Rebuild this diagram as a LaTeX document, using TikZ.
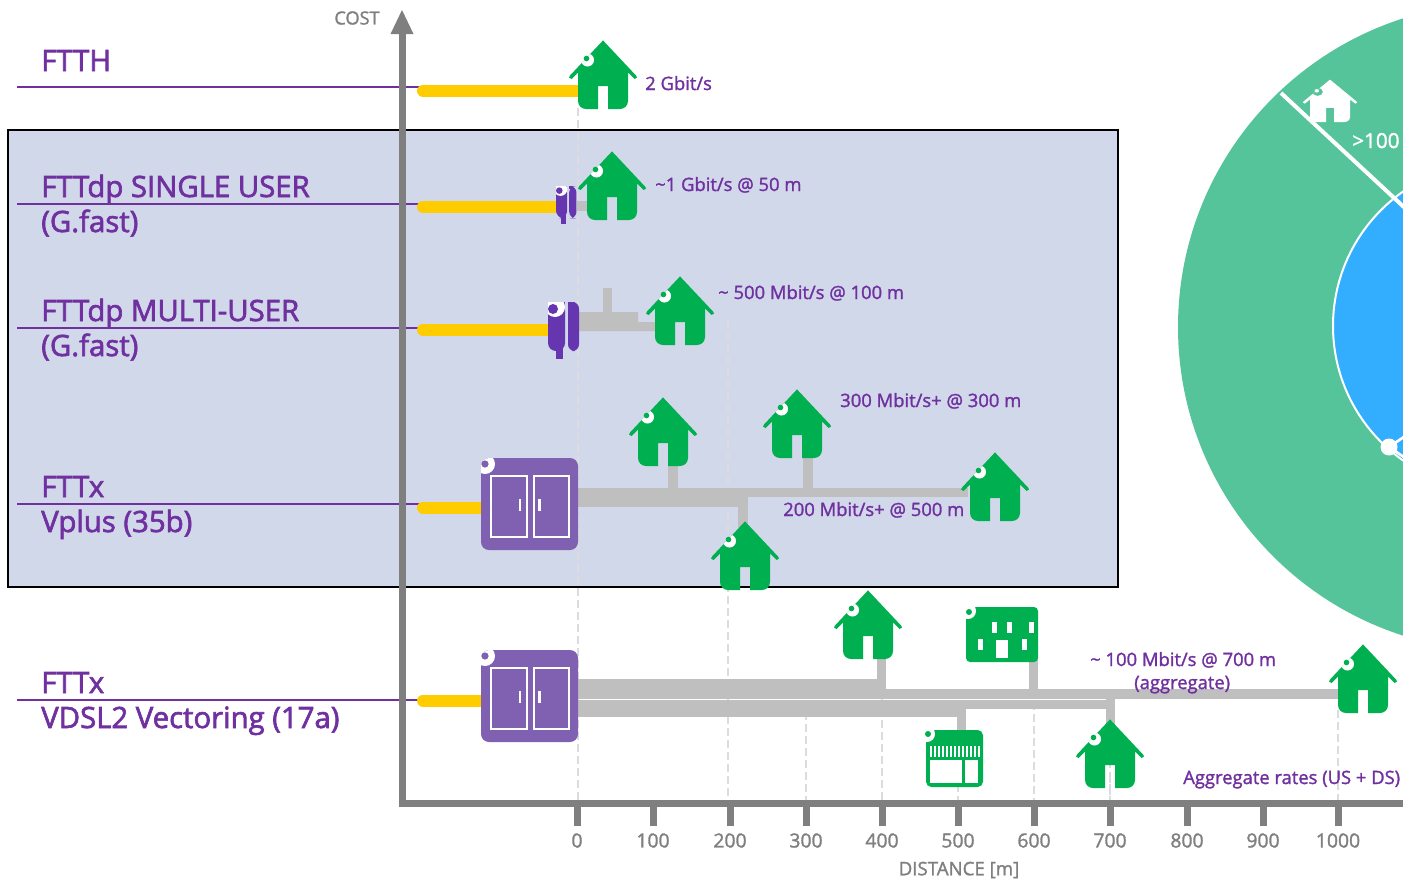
\documentclass[tikz,border=0pt]{standalone}
\usepackage{fontspec}
\setmainfont{Open Sans}
\newfontfamily\techfont[RawFeature={embolden=2.2}]{Open Sans}
\newfontfamily\ratefont[RawFeature={embolden=1.5}]{Open Sans}
\usepackage{tikz}
\usetikzlibrary{arrows,backgrounds}

\definecolor{techPurple}{HTML}{7030A0}
\definecolor{cabinetPurple}{HTML}{8060B0}
\definecolor{plugPurple}{HTML}{6636B0}
\definecolor{homeGreen}{HTML}{00B050}
\definecolor{ringGreen}{HTML}{56C49A}
\definecolor{coreBlue}{HTML}{33AEFF}
\definecolor{boxBlue}{HTML}{D1D8EA}
\definecolor{fibreYellow}{HTML}{FFCC00}
\definecolor{copperGrey}{HTML}{BFBFBF}
\definecolor{axisGrey}{HTML}{7F7F7F}
\definecolor{guideGrey}{HTML}{DCDCE0}

\newcommand{\homeoutline}{(0,-0.6) -- (33,34.5) -- (34,36.5) -- (31.5,38) -- (25,31.5) -- (25,60) .. controls (25,65) and (21,68) .. (17,68) -- (5,68) -- (5,45) -- (-5,45) -- (-5,68) -- (-17,68) .. controls (-21,68) and (-25,65) .. (-25,60) -- (-25,31.5) -- (-31.5,38) -- (-34,36.5) -- (-33,34.5) -- cycle}

\tikzset{
  techlabel/.style={anchor=base west,inner sep=0.75pt,text=techPurple,font=\techfont\fontsize{22}{26}\selectfont},
  ratelabel/.style={anchor=base west,inner sep=0.75pt,text=techPurple,font=\ratefont\fontsize{13.8}{17}\selectfont},
  axislabel/.style={inner sep=0.75pt,text=axisGrey,font=\ratefont\fontsize{14.5}{17}\selectfont},
  rule/.style={draw=techPurple,line width=1.1pt},
  fibre/.style={draw=fibreYellow,line width=9pt,line cap=round},
  guide/.style={draw=guideGrey,line width=1.6pt,dash pattern=on 6pt off 3pt},
  pics/homeicon/.style n args={3}{code={
    \fill[#1] \homeoutline ;
    \begin{scope}
      \clip \homeoutline ;
      \fill[#2] (-15.5,19) circle (6.5) ;
    \end{scope}
    \fill[#3] (-16.5,17.5) circle (2.8) ;
  }},
  pics/cabinet/.style={code={
    \fill[cabinetPurple,rounded corners=6] (0,0) rectangle (97,92) ;
    \draw[white,line width=1.5pt] (10,17.5) rectangle (45.5,78.5) ;
    \draw[white,line width=1.5pt] (52.5,17.5) rectangle (88,78.5) ;
    \fill[white] (37.5,41) rectangle (40,53) ;
    \fill[white] (57,41) rectangle (59.5,53) ;
    \begin{scope}
      \clip[rounded corners=6] (0,0) rectangle (97,92) ;
      \fill[white] (4,6) circle (10) ;
    \end{scope}
    \fill[cabinetPurple] (4,6) circle (3.6) ;
  }},
  pics/plugicon/.style={code={
    \fill[plugPurple] (0,0) rectangle (17,5) ;
    \fill[plugPurple] (8,40) rectangle (15,57) ;
    \fill[plugPurple,rounded corners=6] (0,0) rectangle (17,49) ;
    \fill[plugPurple,rounded corners=5] (20,0) rectangle (31,49) ;
    \fill[plugPurple] (20,0) rectangle (26,5) ;
    \begin{scope}
      \clip (0,0) rectangle (18,49) ;
      \fill[white] (7,5) circle (10) ;
    \end{scope}
    \fill[plugPurple] (5,7) circle (5) ;
  }}
}

\begin{document}
\begin{tikzpicture}[x=0.75pt,y=0.75pt,yscale=-1,xscale=1]
\useasboundingbox (0,0) rectangle (1403,882);
\clip (0,0) rectangle (1403,882);

%Shape: blue box
\draw[fill=boxBlue,draw=black,line width=1.1pt] (8,130) rectangle (1118,587) ;

%Shape: rings
\fill[ringGreen] (1502,327) circle (324) ;
\draw[fill=coreBlue,draw=white,line width=1.5pt] (1497,326) circle (164) ;
\draw[white,line width=3pt] (1281,93) -- (1420,222) ;
\draw[white,line width=2pt] (1389,447) -- (1420,426) ;
\draw[white,line width=2pt] (1389,447) -- (1420,468) ;
\fill[white] (1389,447) circle (8.5) ;
\pic[xscale=0.8,yscale=-0.62] at (1330,80) {homeicon={white}{ringGreen}{white}} ;
\node (lblCore) [anchor=base west,inner sep=0.75pt,text=white,font=\ratefont\fontsize{15.5}{18}\selectfont] at (1351,148) {>100};

%Dashed guides
\foreach \guidex/\guidetop in {578/108,728/320,806/700,882/660,958/712,1034/690,1110/700,1338/710}
  \draw[guide] (\guidex,\guidetop) -- (\guidex,800) ;

%Text rules
\foreach \ruley/\rulename in {87/FTTH,204/Single,328/Multi,504/Vplus,700/Vdsl} {
  \coordinate (start\rulename) at (17,\ruley) ;
  \coordinate (end\rulename) at (420,\ruley) ;
  \draw[rule] (start\rulename) -- (end\rulename) ;
}

%Fibre
\draw[fibre] (423,90.5) -- (578,90.5) ;
\draw[fibre] (423,206.5) -- (560,206.5) ;
\draw[fibre] (423,329.5) -- (552,329.5) ;
\draw[fibre] (423,507.5) -- (486,507.5) ;
\draw[fibre] (423,700.5) -- (486,700.5) ;

%Copper: single user and multi-user
\fill[copperGrey] (577,201) rectangle (590,211) ;
\fill[copperGrey] (603,288) rectangle (612,312) ;
\fill[copperGrey] (578,312) -- (638,312) -- (638,322) -- (658,322) -- (658,331) -- (578,331) -- cycle ;

%Copper: Vplus
\fill[copperGrey] (578,488) rectangle (748,507) ;
\fill[copperGrey] (748,488) rectangle (968,497) ;
\fill[copperGrey] (668,462) rectangle (678,488) ;
\fill[copperGrey] (803,455) rectangle (813,490) ;
\fill[copperGrey] (738,507) rectangle (748,528) ;

%Copper: VDSL2
\fill[copperGrey] (578,679) rectangle (886,699) ;
\fill[copperGrey] (886,689) rectangle (1345,698.7) ;
\fill[copperGrey] (578,700) rectangle (966,717) ;
\fill[copperGrey] (886,700) rectangle (1115,709) ;
\fill[copperGrey] (877,655) rectangle (886,690) ;
\fill[copperGrey] (1029,658) rectangle (1038,690) ;
\fill[copperGrey] (957,715) rectangle (966,732) ;
\fill[copperGrey] (1106,695) rectangle (1115,725) ;

%Homes
\foreach \homex/\homey in {603/41,612/152,680/277,663/398,797/390,995/453,745/522,868/591,1363/645,1110/720}
  \pic[yscale=-1] at (\homex,\homey) {homeicon={homeGreen}{white}{homeGreen}} ;

%Shape: plugs
\pic[scale=0.66,yscale=-1] at (556,186) {plugicon} ;
\pic[yscale=-1] at (548,302) {plugicon} ;

%Shape: cabinets
\pic[yscale=-1] at (481,458) {cabinet} ;
\pic[yscale=-1] at (481,650) {cabinet} ;

%Guide over the last home
\draw[guide] (1110,775) -- (1110,800) ;

%Shape: office block
\fill[homeGreen,rounded corners=3] (966,607) rectangle (1038,662) ;
\foreach \winx/\winy in {992/622,1007/622,1029/622,978/639,1022/639}
  \fill[white] (\winx,\winy) rectangle ++(4.5,11) ;
\fill[white] (996,640) rectangle (1008,658) ;
\fill[white] (968,611) circle (8) ;
\fill[homeGreen] (969,612) circle (3) ;

%Shape: shop
\fill[homeGreen,rounded corners=4] (926,730) rectangle (983,787) ;
\foreach \slat in {0,...,12}
  \fill[white] (930+\slat*3.98,746) rectangle ++(2,11) ;
\fill[white] (930,760) rectangle (962,783) ;
\fill[white] (965,760) rectangle (978,783) ;
\fill[white] (927,734) circle (8) ;
\fill[homeGreen] (928,734) circle (3) ;

%Axes
\foreach \tickx/\ticklab in {577/0,653/100,730/200,806/300,882/400,958/500,1034/600,1110/700,1187/800,1263/900,1338/1000} {
  \fill[axisGrey] (\tickx-3.5,803) rectangle (\tickx+3.5,826) ;
  \node (tick\ticklab) [axislabel] at (\tickx,840.5) {\ticklab};
}
\fill[axisGrey] (398.5,33) rectangle (405.5,806.5) ;
\fill[axisGrey] (398.5,799.5) rectangle (1403,806.5) ;
\fill[axisGrey] (390.5,34) -- (402,10) -- (413.5,34) -- cycle ;

% Text Node
\node (lblCost) [axislabel,font=\ratefont\fontsize{13.6}{16}\selectfont] at (357,18) {COST};
\node (lblDistance) [axislabel,font=\ratefont\fontsize{14}{16}\selectfont] at (959,870) {DISTANCE [m]};

% Text Node
\node (lblFTTH) [techlabel] at (40,71) {FTTH};
\node (lblSingle) [techlabel] at (40,197) {FTTdp SINGLE USER};
\node (lblSingleB) [techlabel] at (40,232) {(G.fast)};
\node (lblMulti) [techlabel] at (40,321) {FTTdp MULTI-USER};
\node (lblMultiB) [techlabel] at (40,356) {(G.fast)};
\node (lblVplus) [techlabel] at (40,497) {FTTx};
\node (lblVplusB) [techlabel] at (40,532) {Vplus (35b)};
\node (lblVdsl) [techlabel] at (40,693) {FTTx};
\node (lblVdslB) [techlabel] at (40,728) {VDSL2 Vectoring (17a)};

% Text Node
\node (rateFTTH) [ratelabel] at (644,90) {2 Gbit/s};
\node (rateSingle) [ratelabel] at (654,191) {\textasciitilde1 Gbit/s @ 50 m};
\node (rateMulti) [ratelabel] at (717,299) {\textasciitilde\ 500 Mbit/s @ 100 m};
\node (rateThree) [ratelabel] at (839,407) {300 Mbit/s+ @ 300 m};
\node (rateTwo) [ratelabel] at (782,516) {200 Mbit/s+ @ 500 m};
\node (rateOne) [ratelabel] at (1089,666) {\textasciitilde\ 100 Mbit/s @ 700 m};
\node (rateOneB) [ratelabel] at (1133,689) {(aggregate)};
\node (rateAggr) [ratelabel] at (1182,784) {Aggregate rates (US + DS)};

\end{tikzpicture}
\end{document}
